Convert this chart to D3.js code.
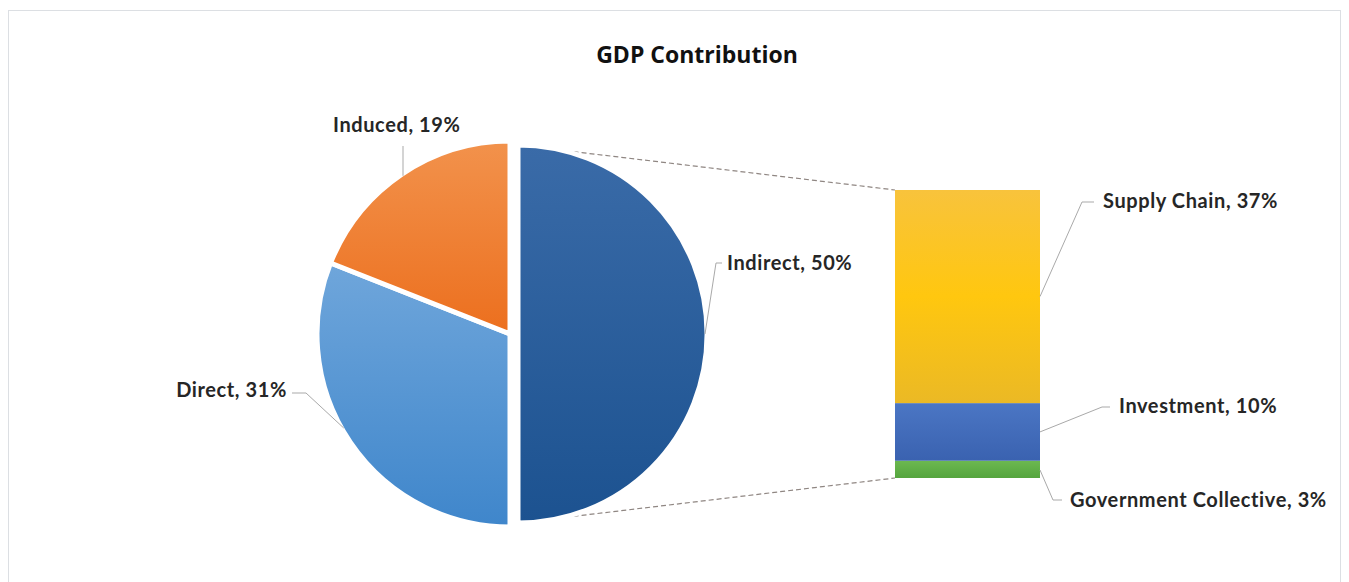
<!DOCTYPE html>
<html>
<head>
<meta charset="utf-8">
<script src="https://cdn.jsdelivr.net/npm/d3@7"></script>
<style>
  html, body { margin: 0; padding: 0; background: #fff; }
  svg { display: block; }
  .lbl { font-family: Lato, "Open Sans", sans-serif; font-weight: 700; font-size: 20px; fill: #262626; letter-spacing: 0.6px; }
  .title { font-family: "Liberation Sans Narrow", "Open Sans", sans-serif; font-weight: 700; font-size: 23px; fill: #111; }
</style>
</head>
<body>
<svg id="chart" width="1349" height="582"></svg>
<script>
// Main pie: share of GDP contribution
const pieCategories = ["Indirect", "Direct", "Induced"];
const pieValues = [50, 31, 19];
// Breakdown of the "Indirect" share shown in the stacked bar
const barCategories = ["Supply Chain", "Investment", "Government Collective"];
const barValues = [37, 10, 3];

const W = 1349, H = 582;
const svg = d3.select("#chart");

// Frame
svg.append("rect").attr("x", 0).attr("y", 0).attr("width", W).attr("height", H).attr("fill", "#fff");
svg.append("rect").attr("x", 8.5).attr("y", 10.5).attr("width", 1332).attr("height", 580)
  .attr("fill", "none").attr("stroke", "#dcdfe3").attr("stroke-width", 1);

svg.append("text").attr("class", "title").attr("x", 697).attr("y", 63)
  .attr("text-anchor", "middle").text("GDP Contribution");

// Gradients
const defs = svg.append("defs");
function grad(id, stops) {
  const g = defs.append("linearGradient").attr("id", id)
    .attr("x1", 0).attr("y1", 0).attr("x2", 0).attr("y2", 1);
  stops.forEach(([o, c]) => g.append("stop").attr("offset", o).attr("stop-color", c));
}
grad("g-indirect", [[0, "#3a6ba8"], [1, "#1c5290"]]);
grad("g-direct", [[0, "#6fa6db"], [1, "#3f86cb"]]);
grad("g-induced", [[0, "#f2924c"], [1, "#ec6f1e"]]);
grad("g-supply", [[0, "#f8c33c"], [0.5, "#ffc70f"], [1, "#ebb925"]]);
grad("g-invest", [[0, "#4b76c4"], [1, "#3a62b0"]]);
grad("g-gov", [[0, "#6cb850"], [1, "#55a53e"]]);
const pieFill = { "Indirect": "url(#g-indirect)", "Direct": "url(#g-direct)", "Induced": "url(#g-induced)" };
const barFill = { "Supply Chain": "url(#g-supply)", "Investment": "url(#g-invest)", "Government Collective": "url(#g-gov)" };

// Pie geometry
const cx = 510, cy = 334, R = 193, Rx = 189, explode = 8;
const pieData = pieCategories.map((c, i) => ({ cat: c, value: pieValues[i] }));
const arcs = d3.pie().sort(null).value(d => d.value).startAngle(0).endAngle(2 * Math.PI)(pieData);
const radiusOf = a => a.data.cat === "Indirect" ? Rx : R;
const arcGen = d3.arc().innerRadius(0).outerRadius(radiusOf);

function offsetOf(a) {
  if (a.data.cat !== "Indirect") return [0, 0];
  const m = (a.startAngle + a.endAngle) / 2;
  return [Math.sin(m) * explode, -Math.cos(m) * explode];
}

// Stacked bar geometry
const barX0 = 895, barX1 = 1040;
const total = d3.sum(barValues);
const y = d3.scaleLinear().domain([0, total]).range([478, 190]);
// stack from the bottom: last category at the base
let acc = 0;
const segs = [];
for (let i = barCategories.length - 1; i >= 0; i--) {
  segs.push({ cat: barCategories[i], value: barValues[i], y0: acc, y1: acc + barValues[i] });
  acc += barValues[i];
}

// Connector lines from the exploded slice to the bar
const ind = arcs.find(a => a.data.cat === "Indirect");
const [ox, oy] = offsetOf(ind);
const pTop = [cx + ox + Rx * Math.sin(ind.startAngle), cy + oy - Rx * Math.cos(ind.startAngle)];
const pBot = [cx + ox + Rx * Math.sin(ind.endAngle), cy + oy - Rx * Math.cos(ind.endAngle)];
const conn = svg.append("g").attr("stroke", "#8f8682").attr("stroke-width", 1.2)
  .attr("stroke-dasharray", "5,3").attr("fill", "none");
conn.append("line").attr("x1", pTop[0]).attr("y1", pTop[1]).attr("x2", barX0).attr("y2", y(total));
conn.append("line").attr("x1", pBot[0]).attr("y1", pBot[1]).attr("x2", barX0).attr("y2", y(0));

// Slices
svg.append("g").selectAll("path").data(arcs).join("path")
  .attr("transform", a => { const o = offsetOf(a); return `translate(${cx + o[0]},${cy + o[1]})`; })
  .attr("d", arcGen)
  .attr("fill", a => pieFill[a.data.cat])
  .attr("stroke", "#fff").attr("stroke-width", 5).attr("stroke-linejoin", "round");

// Bar segments
svg.append("g").selectAll("rect").data(segs).join("rect")
  .attr("x", barX0).attr("width", barX1 - barX0)
  .attr("y", d => y(d.y1)).attr("height", d => y(d.y0) - y(d.y1))
  .attr("fill", d => barFill[d.cat]);

// Leader lines and labels
const leader = svg.append("g").attr("stroke", "#a9a9a9").attr("stroke-width", 1).attr("fill", "none");
const byCat = {};
arcs.forEach(a => byCat[a.data.cat] = a);
const pct = v => `${v}%`;
const Rv = R - 2;

// Induced
{
  const a = byCat["Induced"];
  const ang = Math.asin((403 - cx) / Rv);
  const p = [cx + Rv * Math.sin(ang), cy - Rv * Math.cos(ang)];
  leader.append("polyline").attr("points", `403,146 ${p[0]},${p[1]}`);
  svg.append("text").attr("class", "lbl").attr("x", 333).attr("y", 132).text(`${a.data.cat}, ${pct(a.data.value)}`);
}
// Indirect
{
  const a = byCat["Indirect"];
  const o = offsetOf(a);
  const p = [cx + o[0] + (Rx - 2), cy + o[1]];
  leader.append("polyline").attr("points", `722,263 716,263 ${p[0]},${p[1]}`);
  svg.append("text").attr("class", "lbl").attr("x", 727).attr("y", 270).text(`${a.data.cat}, ${pct(a.data.value)}`);
}
// Direct
{
  const a = byCat["Direct"];
  const ang = 2 * Math.PI - Math.acos((428 - cy) / -Rv);
  const p = [cx + Rv * Math.sin(ang), cy - Rv * Math.cos(ang)];
  leader.append("polyline").attr("points", `292,393 306,393 ${p[0]},${p[1]}`);
  svg.append("text").attr("class", "lbl").attr("x", 287).attr("y", 397).attr("text-anchor", "end").text(`${a.data.cat}, ${pct(a.data.value)}`);
}
// Bar labels
const barLabelPos = {
  "Supply Chain": { x: 1103, y: 208, pts: (m) => `1094,202 1082,202 ${barX1},${m}` },
  "Investment": { x: 1119, y: 413, pts: (m) => `1110,407 1102,407 ${barX1},${m}` },
  "Government Collective": { x: 1070, y: 507, pts: (m) => `${barX1},${m} 1053,500 1062,500` }
};
segs.forEach(s => {
  const lp = barLabelPos[s.cat];
  const mid = s.cat === "Government Collective" ? y(s.y0) - 8 : (y(s.y0) + y(s.y1)) / 2;
  leader.append("polyline").attr("points", lp.pts(mid));
  svg.append("text").attr("class", "lbl").attr("x", lp.x).attr("y", lp.y).text(`${s.cat}, ${pct(s.value)}`);
});
</script>
</body>
</html>
